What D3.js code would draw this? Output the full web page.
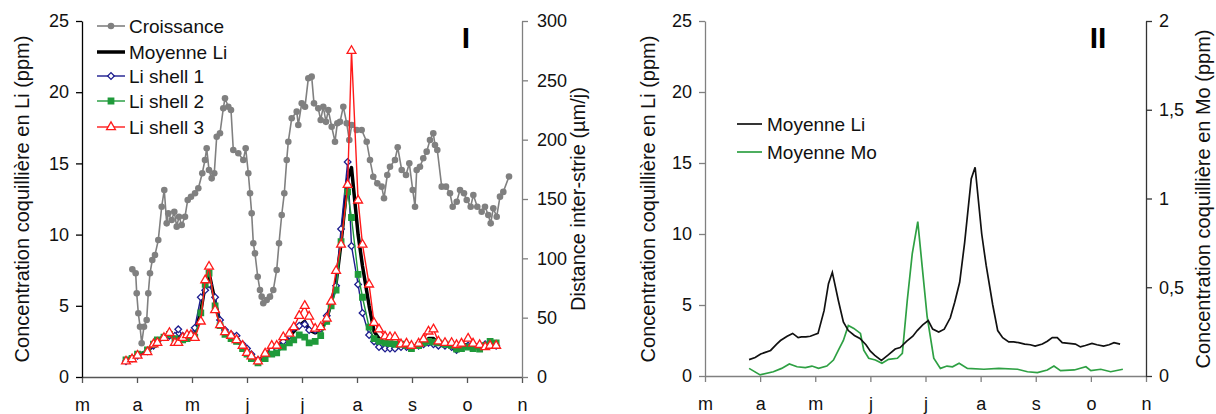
<!DOCTYPE html>
<html>
<head>
<meta charset="utf-8">
<script src="https://cdn.jsdelivr.net/npm/d3@7"></script>
<style>
  body { margin: 0; background: #fff; }
  svg { font-family: "Liberation Sans", Arial, sans-serif; }
  .axis text { font-size: 18px; fill: #111; }
  .titre { font-size: 20px; fill: #111; }
  .leg { font-size: 19px; fill: #111; }
</style>
</head>
<body>
<div id="chart"></div>
<script>
// mois de mars a novembre, x = mois fractionnaire depuis le 1er mars
var mois = ['m', 'a', 'm', 'j', 'j', 'a', 's', 'o', 'n'];
var ticksLi = [0, 5, 10, 15, 20, 25];
var ticksCroissance = [0, 50, 100, 150, 200, 250, 300];
var ticksMo = [0, 0.5, 1, 1.5, 2];
var labelsMo = ['0', '0,5', '1', '1,5', '2'];

// vitesse de croissance (distance inter-strie, µm/j)
var croissanceX = [0.915,0.976,0.995,1.024,1.055,1.085,1.127,1.176,1.205,1.236,1.278,1.327,1.387,1.449,1.496,1.54,1.569,1.631,1.678,1.722,1.764,1.813,1.873,1.922,1.982,2.055,2.115,2.187,2.236,2.267,2.309,2.358,2.405,2.449,2.509,2.569,2.6,2.66,2.709,2.751,2.842,2.933,2.976,3.024,3.055,3.085,3.115,3.145,3.195,3.236,3.267,3.296,3.358,3.418,3.478,3.54,3.582,3.631,3.678,3.722,3.751,3.813,3.904,3.933,3.995,4.055,4.115,4.176,4.218,4.296,4.34,4.387,4.436,4.478,4.54,4.6,4.642,4.691,4.751,4.813,4.86,4.904,4.995,5.085,5.176,5.236,5.296,5.369,5.449,5.491,5.551,5.6,5.691,5.74,5.813,5.891,5.951,6.013,6.055,6.085,6.145,6.205,6.267,6.327,6.387,6.418,6.46,6.54,6.618,6.691,6.74,6.813,6.873,6.945,6.995,7.067,7.115,7.187,7.267,7.327,7.387,7.431,7.478,7.54,7.6,7.66,7.764];
var croissance = [90.7,87.4,70.5,53.7,42.4,28.4,42.4,48,70.5,87.4,98.6,102.8,115.4,143.5,157.6,129.5,137.9,132.3,139.3,126.7,135.1,128.1,135.1,149.2,151.9,154.8,159,171.7,182.9,192.7,174.4,167.4,171.7,202.5,205.4,226.4,234.9,227.8,225,191.3,188.5,182.9,192.7,171.7,154.8,137.9,112.7,104.2,84.5,73.3,67.7,62.1,64.9,67.7,73.3,90.2,112.7,136.5,154.8,182.9,198.3,218,223.6,212.4,230.6,227.8,251.7,253.1,230.6,226.4,216.6,227.8,215,225,210.9,198.3,213.8,215,227.8,213.8,199.7,212.4,208.1,208.1,198.3,182.9,168.8,163.2,160.4,150.6,170.2,177.2,182.9,193.6,174.4,170.2,180.1,157.6,143.5,174.4,177.2,184.3,189.9,199.7,205.4,195.5,191.3,160.4,160.4,154.8,143.5,147.7,157.6,154.8,149.2,143.5,153.4,143.5,139.3,143.5,136.5,129.5,142.2,135.1,152,156,169];

// concentrations en Li (ppm) des trois coquilles et moyenne
var liX = [0.80,0.91,1.01,1.19,1.30,1.37,1.49,1.59,1.69,1.75,1.83,1.91,1.98,2.05,2.16,2.24,2.31,2.42,2.51,2.60,2.71,2.81,2.92,3.00,3.08,3.20,3.33,3.45,3.54,3.66,3.77,3.85,3.95,4.05,4.13,4.24,4.34,4.45,4.53,4.62,4.71,4.83,4.90,5.02,5.10,5.22,5.31,5.40,5.51,5.60,5.69,5.80,5.90,5.99,6.12,6.21,6.30,6.39,6.48,6.60,6.72,6.81,6.90,7.02,7.11,7.23,7.33,7.42,7.53];
var liShell1 = [1.1,1.3,1.5,1.8,2.2,2.5,2.8,2.9,2.9,3.35,2.9,2.8,3.0,3.45,5.6,6.1,6.5,5.6,4.0,3.3,3.0,2.9,2.3,2.0,1.6,1.2,1.5,1.9,2.0,2.5,2.9,3.45,3.6,3.7,3.3,3.3,3.4,4.3,5.2,6.4,10.4,15.1,9.2,6.5,4.5,2.95,2.5,2.1,2.0,2.0,2.0,2.1,2.1,2.1,2.2,2.3,2.4,2.3,2.2,2.2,2.1,1.9,2.1,2.2,2.3,2.2,2.3,2.4,2.2];
var liShell2 = [1.2,1.3,1.6,1.9,2.3,2.6,2.8,3.0,2.7,2.5,2.6,2.7,2.8,2.8,4.5,6.5,7.3,5.0,3.6,3.0,2.7,2.5,2.0,1.6,1.3,1.0,1.3,1.6,1.7,2.1,2.4,2.6,2.95,2.8,2.4,2.5,2.9,3.9,5.0,6.1,9.5,13.0,11.2,7.2,5.6,3.5,2.7,2.5,2.4,2.35,2.3,2.3,2.2,2.0,2.2,2.4,2.5,2.45,2.4,2.3,2.2,1.95,2.0,2.1,2.0,1.95,2.2,2.5,2.4];
var liShell3 = [1.1,1.25,1.5,1.75,2.3,2.4,2.75,3.1,2.4,2.4,2.75,2.95,2.95,2.75,3.9,6.8,7.75,4.7,3.65,3.15,2.9,2.6,2.2,1.7,1.45,1.1,1.65,2.2,2.2,2.8,3.05,3.5,4.3,5.0,4.25,3.4,3.5,4.1,5.3,7.45,9.3,13.5,22.9,12.4,9.3,6.5,3.8,3.35,2.85,2.8,2.8,2.3,2.35,2.2,2.35,2.65,3.2,3.35,2.5,2.4,2.4,2.25,2.35,2.7,2.35,2.25,2.1,2.2,2.2];
var moyenneLi = [1.15,1.3,1.55,1.8,2.25,2.5,2.8,3.0,2.7,2.75,2.75,2.8,2.9,3.0,4.6,6.5,7.3,5.3,3.8,3.2,2.85,2.65,2.2,1.75,1.45,1.1,1.5,1.9,2.0,2.45,2.8,3.2,3.6,3.9,3.3,3.1,3.3,4.1,5.2,6.6,9.4,13.9,14.7,10.0,7.8,5.0,3.2,2.7,2.4,2.4,2.35,2.25,2.2,2.1,2.25,2.45,2.7,2.7,2.35,2.3,2.25,2.05,2.15,2.3,2.2,2.1,2.2,2.35,2.25];

// concentration moyenne en Mo (ppm)
var moX = [0.8,1.0,1.24,1.39,1.53,1.67,1.82,1.94,2.06,2.21,2.33,2.42,2.51,2.6,2.7,2.82,2.88,2.97,3.09,3.21,3.33,3.49,3.58,3.67,3.76,3.86,3.94,4.03,4.15,4.27,4.39,4.49,4.61,4.76,5.06,5.33,5.67,5.85,6.03,6.21,6.33,6.45,6.7,6.91,7.0,7.18,7.36,7.58];
var moyenneMo = [0.043,0.006,0.024,0.043,0.068,0.052,0.047,0.056,0.043,0.056,0.09,0.146,0.2,0.285,0.268,0.24,0.146,0.1,0.09,0.072,0.094,0.1,0.128,0.428,0.69,0.87,0.616,0.334,0.1,0.043,0.056,0.052,0.072,0.043,0.038,0.043,0.038,0.024,0.019,0.034,0.056,0.03,0.034,0.052,0.03,0.038,0.024,0.038];

var W = 1216, H = 414;
var gris = '#808080', bleu = '#1c1c8e', vert = '#1f9a3a', rouge = '#ff1a1a', vertMo = '#2ea043';

var svg = d3.select('#chart').append('svg')
    .attr('width', W)
    .attr('height', H);

function pts(xs, ys) {
    return xs.map(function (x, i) { return [x, ys[i]]; });
}

function axeMois(g, x, y0, couleur) {
    var ax = d3.axisBottom(x)
        .tickValues(d3.range(mois.length))
        .tickFormat(function (i) { return mois[i]; })
        .tickSize(6).tickSizeOuter(0).tickPadding(15);
    var a = g.append('g').attr('class', 'axis')
        .attr('transform', 'translate(0,' + y0 + ')')
        .call(ax);
    a.selectAll('path, line').attr('stroke', couleur).attr('stroke-width', 1.3);
}

function axeY(g, axis, x0, couleur) {
    var a = g.append('g').attr('class', 'axis')
        .attr('transform', 'translate(' + x0 + ',0)')
        .call(axis);
    a.selectAll('path, line').attr('stroke', couleur).attr('stroke-width', 1.3);
    return a;
}

function titreY(x, y, txt) {
    svg.append('text')
        .attr('class', 'titre')
        .attr('transform', 'translate(' + x + ',' + y + ') rotate(-90)')
        .attr('text-anchor', 'middle')
        .attr('dy', '0.35em')
        .text(txt);
}

// ---------- Panneau I ----------
var x1 = d3.scaleLinear().domain([0, 8]).range([82, 522]);
var yLi1 = d3.scaleLinear().domain([0, 25]).range([377, 21]);
var yCr = d3.scaleLinear().domain([0, 300]).range([377, 21]);

var p1 = svg.append('g');

axeMois(p1, x1, 377, '#555');
axeY(p1, d3.axisLeft(yLi1).tickValues(ticksLi).tickSize(6).tickSizeOuter(0).tickPadding(7), 82, '#000');
axeY(p1, d3.axisRight(yCr).tickValues(ticksCroissance).tickSize(6).tickSizeOuter(0).tickPadding(9), 522, gris);

titreY(22, 199, 'Concentration coquillière en Li (ppm)');
titreY(578, 199, 'Distance inter-strie (µm/j)');

var line1 = d3.line().x(function (d) { return x1(d[0]); }).y(function (d) { return yLi1(d[1]); });
var lineCr = d3.line().x(function (d) { return x1(d[0]); }).y(function (d) { return yCr(d[1]); });

// croissance
var dCr = pts(croissanceX, croissance);
p1.append('path').datum(dCr)
    .attr('d', lineCr).attr('fill', 'none').attr('stroke', gris).attr('stroke-width', 1.6);
p1.selectAll('.cr').data(dCr).enter().append('circle')
    .attr('class', 'cr')
    .attr('cx', function (d) { return x1(d[0]); })
    .attr('cy', function (d) { return yCr(d[1]); })
    .attr('r', 3.3).attr('fill', gris);

// moyenne Li
p1.append('path').datum(pts(liX, moyenneLi))
    .attr('d', line1).attr('fill', 'none').attr('stroke', '#000').attr('stroke-width', 3.5)
    .attr('stroke-linejoin', 'round');

var symDiamond = d3.symbol().type(d3.symbolSquare).size(22);
var symSquare = d3.symbol().type(d3.symbolSquare).size(30);
var symTri = d3.symbol().type(d3.symbolTriangle).size(34);

var shells = [
    { vals: liShell1, couleur: bleu, sym: symDiamond, rot: 45, fill: '#fff' },
    { vals: liShell2, couleur: vert, sym: symSquare, rot: 0, fill: vert },
    { vals: liShell3, couleur: rouge, sym: symTri, rot: 0, fill: '#fff' }
];

shells.forEach(function (s) {
    var d = pts(liX, s.vals);
    p1.append('path').datum(d)
        .attr('d', line1).attr('fill', 'none').attr('stroke', s.couleur).attr('stroke-width', 1.4);
    p1.append('g').selectAll('path').data(d).enter().append('path')
        .attr('d', s.sym)
        .attr('transform', function (p) { return 'translate(' + x1(p[0]) + ',' + yLi1(p[1]) + ') rotate(' + s.rot + ')'; })
        .attr('fill', s.fill).attr('stroke', s.couleur).attr('stroke-width', 1.3);
});

// legende I
var legI = [
    { nom: 'Croissance', couleur: gris, w: 1.6 },
    { nom: 'Moyenne Li', couleur: '#000', w: 3.5 },
    { nom: 'Li shell 1', couleur: bleu, w: 1.4, s: shells[0] },
    { nom: 'Li shell 2', couleur: vert, w: 1.4, s: shells[1] },
    { nom: 'Li shell 3', couleur: rouge, w: 1.4, s: shells[2] }
];
var legYs = [26, 52, 76, 101, 127];
legI.forEach(function (l, i) {
    var y = legYs[i];
    p1.append('line').attr('x1', 97).attr('x2', 125).attr('y1', y).attr('y2', y)
        .attr('stroke', l.couleur).attr('stroke-width', l.w);
    if (i === 0) {
        p1.append('circle').attr('cx', 111).attr('cy', y).attr('r', 3.3).attr('fill', gris);
    }
    if (l.s) {
        p1.append('path').attr('d', l.s.sym)
            .attr('transform', 'translate(111,' + y + ') rotate(' + l.s.rot + ')')
            .attr('fill', l.s.fill).attr('stroke', l.couleur).attr('stroke-width', 1.3);
    }
    p1.append('text').attr('class', 'leg').attr('x', 129).attr('y', y).attr('dy', '0.35em').text(l.nom);
});

p1.append('text').attr('x', 466).attr('y', 37).attr('dy', '0.35em')
    .attr('text-anchor', 'middle').attr('font-size', 30).attr('font-weight', 'bold').text('I');

// ---------- Panneau II ----------
var x2 = d3.scaleLinear().domain([0, 8]).range([705, 1146]);
var yLi2 = d3.scaleLinear().domain([0, 25]).range([376, 21]);
var yMo = d3.scaleLinear().domain([0, 2]).range([376, 21]);

var p2 = svg.append('g');

axeMois(p2, x2, 376, gris);
axeY(p2, d3.axisLeft(yLi2).tickValues(ticksLi).tickSize(6).tickSizeOuter(0).tickPadding(7), 705, gris);
axeY(p2, d3.axisRight(yMo).tickValues(ticksMo)
    .tickFormat(function (d, i) { return labelsMo[i]; })
    .tickSize(6).tickSizeOuter(0).tickPadding(7), 1146, '#333');

titreY(648, 199, 'Concentration coquillière en Li (ppm)');
titreY(1203, 199, 'Concentration coquillière en Mo (ppm)');

var line2 = d3.line().x(function (d) { return x2(d[0]); }).y(function (d) { return yLi2(d[1]); });
var lineMo = d3.line().x(function (d) { return x2(d[0]); }).y(function (d) { return yMo(d[1]); });

p2.append('path').datum(pts(moX, moyenneMo))
    .attr('d', lineMo).attr('fill', 'none').attr('stroke', vertMo).attr('stroke-width', 1.7);
p2.append('path').datum(pts(liX, moyenneLi))
    .attr('d', line2).attr('fill', 'none').attr('stroke', '#111').attr('stroke-width', 1.7);

var legII = [
    { nom: 'Moyenne Li', couleur: '#111', y: 124 },
    { nom: 'Moyenne Mo', couleur: vertMo, y: 152 }
];
legII.forEach(function (l) {
    p2.append('line').attr('x1', 737).attr('x2', 762).attr('y1', l.y).attr('y2', l.y)
        .attr('stroke', l.couleur).attr('stroke-width', 1.7);
    p2.append('text').attr('class', 'leg').attr('x', 767).attr('y', l.y).attr('dy', '0.35em').text(l.nom);
});

p2.append('text').attr('x', 1098).attr('y', 37).attr('dy', '0.35em')
    .attr('text-anchor', 'middle').attr('font-size', 30).attr('font-weight', 'bold').text('II');
</script>
</body>
</html>
